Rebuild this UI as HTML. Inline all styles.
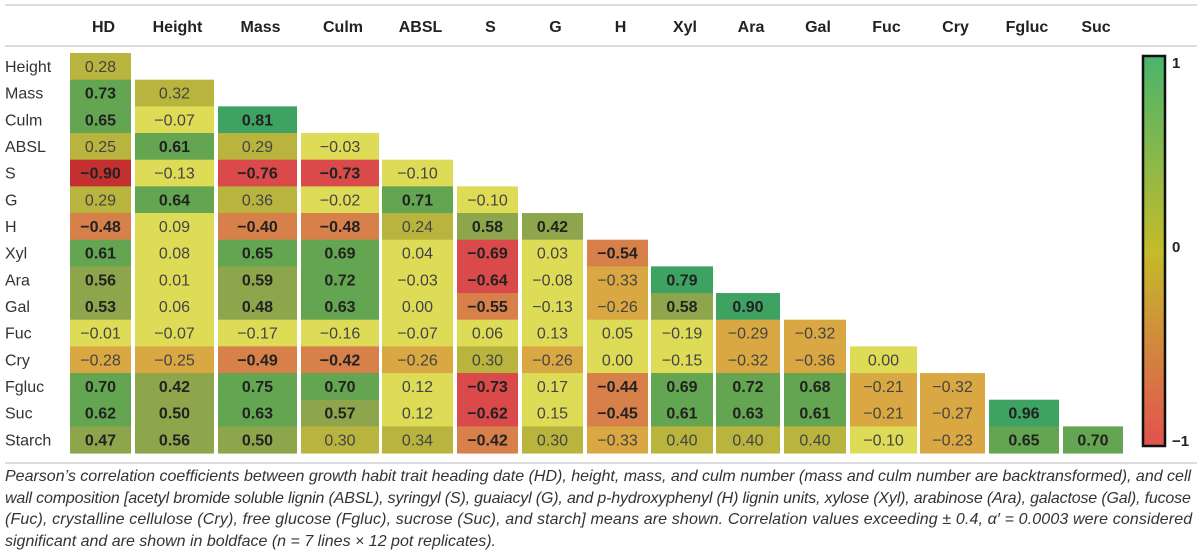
<!DOCTYPE html>
<html><head><meta charset="utf-8"><style>
body{margin:0;background:#fff;width:1200px;height:557px;overflow:hidden;font-family:"Liberation Sans",sans-serif}
svg{display:block}
#cap{position:absolute;left:5px;top:466px;width:1195px;font-style:italic;font-size:16px;line-height:21.6px;color:#333;white-space:nowrap}
#cap span{display:block}
</style></head><body>
<svg id="chart" width="1200" height="557" xmlns="http://www.w3.org/2000/svg"></svg>
<div id="cap"><span>Pearson’s correlation coefficients between growth habit trait heading date (HD), height, mass, and culm number (mass and culm number are backtransformed), and cell</span><span style="letter-spacing:-0.17px">wall composition [acetyl bromide soluble lignin (ABSL), syringyl (S), guaiacyl (G), and p-hydroxyphenyl (H) lignin units, xylose (Xyl), arabinose (Ara), galactose (Gal), fucose</span><span style="letter-spacing:0.13px">(Fuc), crystalline cellulose (Cry), free glucose (Fgluc), sucrose (Suc), and starch] means are shown. Correlation values exceeding ± 0.4, α′ = 0.0003 were considered</span><span>significant and are shown in boldface (<i>n</i> = 7 lines × 12 pot replicates).</span></div>
<script>
const colLabels=["HD","Height","Mass","Culm","ABSL","S","G","H","Xyl","Ara","Gal","Fuc","Cry","Fgluc","Suc"];
const rowLabels=["Height","Mass","Culm","ABSL","S","G","H","Xyl","Ara","Gal","Fuc","Cry","Fgluc","Suc","Starch"];
const rHeight=[0.28];
const rMass=[0.73,0.32];
const rCulm=[0.65,-0.07,0.81];
const rABSL=[0.25,0.61,0.29,-0.03];
const rS=[-0.90,-0.13,-0.76,-0.73,-0.10];
const rG=[0.29,0.64,0.36,-0.02,0.71,-0.10];
const rH=[-0.48,0.09,-0.40,-0.48,0.24,0.58,0.42];
const rXyl=[0.61,0.08,0.65,0.69,0.04,-0.69,0.03,-0.54];
const rAra=[0.56,0.01,0.59,0.72,-0.03,-0.64,-0.08,-0.33,0.79];
const rGal=[0.53,0.06,0.48,0.63,0.00,-0.55,-0.13,-0.26,0.58,0.90];
const rFuc=[-0.01,-0.07,-0.17,-0.16,-0.07,0.06,0.13,0.05,-0.19,-0.29,-0.32];
const rCry=[-0.28,-0.25,-0.49,-0.42,-0.26,0.30,-0.26,0.00,-0.15,-0.32,-0.36,0.00];
const rFgluc=[0.70,0.42,0.75,0.70,0.12,-0.73,0.17,-0.44,0.69,0.72,0.68,-0.21,-0.32];
const rSuc=[0.62,0.50,0.63,0.57,0.12,-0.62,0.15,-0.45,0.61,0.63,0.61,-0.21,-0.27,0.96];
const rStarch=[0.47,0.56,0.50,0.30,0.34,-0.42,0.30,-0.33,0.40,0.40,0.40,-0.10,-0.23,0.65,0.70];
const boldExtra=["H,Mass"];
const rows=[rHeight,rMass,rCulm,rABSL,rS,rG,rH,rXyl,rAra,rGal,rFuc,rCry,rFgluc,rSuc,rStarch];
const colL=[70,135,218,301,382,457,522,587,651,716,784,850,920,989,1063];
const colR=[131,214,297,379,453,518,583,648,713,780,846,917,985,1059,1123];
const top0=53,rowH=26.67;
const NS="http://www.w3.org/2000/svg";
const svg=document.getElementById('chart');
function el(t,a){const e=document.createElementNS(NS,t);for(const k in a)e.setAttribute(k,a[k]);svg.appendChild(e);return e;}
function color(v){
 if(v<=-0.8)return"#c3302f";if(v<=-0.6)return"#db4a4a";if(v<=-0.4)return"#d7804a";if(v<=-0.2)return"#d9a842";
 if(v<0.2)return"#dedb57";if(v<=0.4)return"#b8b43e";if(v<0.6)return"#8da64b";if(v<0.78)return"#63a550";return"#3ea262";}
let l;
l=el('line',{x1:5,x2:1197,y1:5,y2:5,stroke:'#ddd','stroke-width':2});
l=el('line',{x1:5,x2:1197,y1:46,y2:46,stroke:'#ddd','stroke-width':2});
l=el('line',{x1:5,x2:1197,y1:463,y2:463,stroke:'#ddd','stroke-width':2});
colLabels.forEach((c,j)=>{const t=el('text',{x:(colL[j]+colR[j])/2+3,y:32,'text-anchor':'middle','font-size':16,'font-weight':'bold',fill:'#222'});t.textContent=c;
});
rowLabels.forEach((r,i)=>{const y=top0+i*rowH;
 const t=el('text',{x:5,y:y+19,'font-size':16,fill:'#333'});t.textContent=r;
 
 rows[i].forEach((v,j)=>{
  const rc=el('rect',{x:colL[j],y:y,width:colR[j]-colL[j],height:rowH+0.5,fill:color(v)});
  
  const b=Math.abs(v)>0.4||boldExtra.includes(r+','+colLabels[j]);
  const s=(v<0?'\u2212':'')+Math.abs(v).toFixed(2);
  const tx=el('text',{x:(colL[j]+colR[j])/2,y:y+19,'text-anchor':'middle','font-size':16,'font-weight':b?'bold':'normal',fill:b?'#222':'#444'});tx.textContent=s;
  
 });
});
const defs=el('defs',{});const g=document.createElementNS(NS,'linearGradient');g.setAttribute('id','cb');g.setAttribute('x1',0);g.setAttribute('x2',0);g.setAttribute('y1',0);g.setAttribute('y2',1);defs.appendChild(g);
[["0","#4ab46c"],["0.5","#c4bb2a"],["1","#e2524f"]].forEach(([o,c])=>{const s=document.createElementNS(NS,'stop');s.setAttribute('offset',o);s.setAttribute('stop-color',c);g.appendChild(s);});
const cb=el('rect',{x:1143,y:56,width:22,height:390,fill:'url(#cb)',stroke:'#111','stroke-width':2.5});

[["1",68],["0",252],["\u22121",446]].forEach(([s,y])=>{const t=el('text',{x:1172,y:y,'font-size':15,'font-weight':'bold',fill:'#222'});t.textContent=s;
});
</script>
</body></html>
